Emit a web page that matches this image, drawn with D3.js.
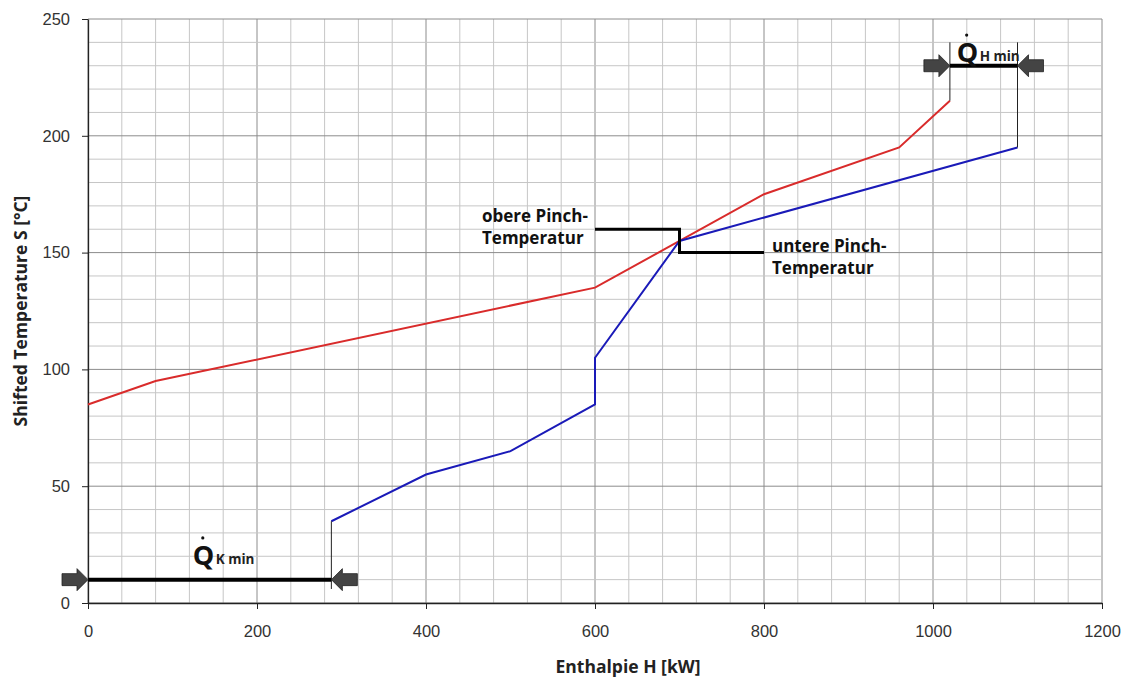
<!DOCTYPE html>
<html>
<head>
<meta charset="utf-8">
<script src="https://cdn.jsdelivr.net/npm/d3@7"></script>
<style>
  body { margin: 0; background: #fff; }
  svg text { font-family: "Liberation Sans", Arial, sans-serif; }
  .ann { font-family: "Open Sans", "DejaVu Sans", sans-serif; font-weight: bold; }
</style>
</head>
<body>
<div id="chart"></div>
<script>
// hot composite curve (shifted)
var hotH = [0, 80, 600, 800, 960, 1020];
var hotT = [85, 95, 135, 175, 195, 215];
// cold composite curve (shifted)
var coldH = [288, 400, 500, 600, 600, 700, 1100];
var coldT = [35, 55, 65, 85, 105, 155, 195];
var xTicks = [0, 200, 400, 600, 800, 1000, 1200];
var yTicks = [0, 50, 100, 150, 200, 250];

var width = 1129, height = 679;
var margin = { top: 19, right: 27, bottom: 76, left: 88 };

var svg = d3.select("#chart").append("svg")
    .attr("width", width)
    .attr("height", height);

var x = d3.scaleLinear().domain([0, 1200]).range([margin.left, width - margin.right]);
var y = d3.scaleLinear().domain([0, 250]).range([height - margin.bottom, margin.top]);

// grid - minor every 40 / 10, major every 200 / 50
var grid = svg.append("g");
grid.selectAll(".vmin").data(d3.range(0, 1201, 40)).enter().append("line")
    .attr("x1", d => x(d)).attr("x2", d => x(d))
    .attr("y1", y(0)).attr("y2", y(250))
    .attr("stroke", d => d % 200 == 0 ? "#8c8c8c" : "#c6c6c6")
    .attr("stroke-width", 1);
grid.selectAll(".hmin").data(d3.range(0, 251, 10)).enter().append("line")
    .attr("x1", x(0)).attr("x2", x(1200))
    .attr("y1", d => y(d)).attr("y2", d => y(d))
    .attr("stroke", d => d % 50 == 0 ? "#8c8c8c" : "#c6c6c6")
    .attr("stroke-width", 1);

// axes
var xAxis = svg.append("g")
    .attr("transform", "translate(0," + y(0) + ")")
    .call(d3.axisBottom(x).tickValues(xTicks).tickFormat(d3.format("d")).tickSize(6).tickSizeOuter(0).tickPadding(16));
var yAxis = svg.append("g")
    .attr("transform", "translate(" + x(0) + ",0)")
    .call(d3.axisLeft(y).tickValues(yTicks).tickSize(6).tickSizeOuter(0).tickPadding(12));
[xAxis, yAxis].forEach(function (a) {
    a.select(".domain").attr("stroke", "#222").attr("stroke-width", 1.3);
    a.selectAll(".tick line").attr("stroke", "#222");
    a.selectAll(".tick text").attr("fill", "#333").style("font-size", "16.5px")
        .style("font-family", "'Liberation Sans', Arial, sans-serif");
});

// curves
var line = d3.line().x(d => x(d[0])).y(d => y(d[1]));
svg.append("path").datum(d3.zip(hotH, hotT))
    .attr("d", line).attr("fill", "none").attr("stroke", "#d92b2b").attr("stroke-width", 2);
svg.append("path").datum(d3.zip(coldH, coldT))
    .attr("d", line).attr("fill", "none").attr("stroke", "#1a1ab8").attr("stroke-width", 2);

// thin vertical markers
function vline(h, t0, t1) {
    svg.append("line").attr("x1", x(h)).attr("x2", x(h))
        .attr("y1", y(t0)).attr("y2", y(t1))
        .attr("stroke", "#222").attr("stroke-width", 1);
}
vline(1020, 215, 240);
vline(1100, 195, 240);
vline(288, 35, 6);

// thick span lines
function hline(h0, h1, t) {
    svg.append("line").attr("x1", x(h0)).attr("x2", x(h1))
        .attr("y1", y(t)).attr("y2", y(t))
        .attr("stroke", "#000").attr("stroke-width", 4);
}
hline(1020, 1100, 230);
hline(0, 288, 10);

// block arrows, tip at data point, dir +1 points right, -1 points left
function arrow(h, t, dir) {
    var px = x(h), py = y(t);
    var L = 26, head = 11, sh = 6, hh = 11;
    var p = [[0, -sh], [L - head, -sh], [L - head, -hh], [L, 0], [L - head, hh], [L - head, sh], [0, sh]];
    var pts = p.map(q => [px - dir * (L - q[0]), py + q[1]]);
    svg.append("path").attr("d", d3.line()(pts) + "Z")
        .attr("fill", "#444").attr("stroke", "#222").attr("stroke-width", 0.8);
}
arrow(1020, 230, 1);
arrow(1100, 230, -1);
arrow(0, 10, 1);
arrow(288, 10, -1);

// Q labels
function qlabel(px, py, sub) {
    var g = svg.append("g");
    g.append("text").attr("class", "ann").attr("x", px).attr("y", py)
        .style("font-size", "27px").attr("fill", "#111").text("Q");
    g.append("circle").attr("cx", px + 10).attr("cy", py - 27).attr("r", 1.6).attr("fill", "#111");
    g.append("text").attr("class", "ann").attr("x", px + 23).attr("y", py - 1)
        .style("font-size", "13.5px").attr("fill", "#222").text(sub);
}
qlabel(x(1028), y(235) + 8, "H min");
qlabel(x(124), y(15) - 3, "K min");

// pinch step
var pinch = [[600, 160], [700, 160], [700, 150], [800, 150]];
svg.append("path").datum(pinch).attr("d", line)
    .attr("fill", "none").attr("stroke", "#000").attr("stroke-width", 3);

function note(px, py, lines) {
    lines.forEach(function (s, i) {
        svg.append("text").attr("class", "ann").attr("x", px).attr("y", py + i * 22)
            .style("font-size", "17px").attr("fill", "#111").text(s);
    });
}
note(482, 222, ["obere Pinch-", "Temperatur"]);
note(772, 252, ["untere Pinch-", "Temperatur"]);

// axis titles
svg.append("text").attr("class", "ann")
    .attr("x", 628).attr("y", 673).attr("text-anchor", "middle")
    .style("font-size", "17.5px").attr("fill", "#222").text("Enthalpie H [kW]");
svg.append("text").attr("class", "ann")
    .attr("transform", "translate(27," + y(125) + ") rotate(-90)")
    .attr("text-anchor", "middle")
    .style("font-size", "17.5px").attr("fill", "#222").text("Shifted Temperature S [°C]");
</script>
</body>
</html>
